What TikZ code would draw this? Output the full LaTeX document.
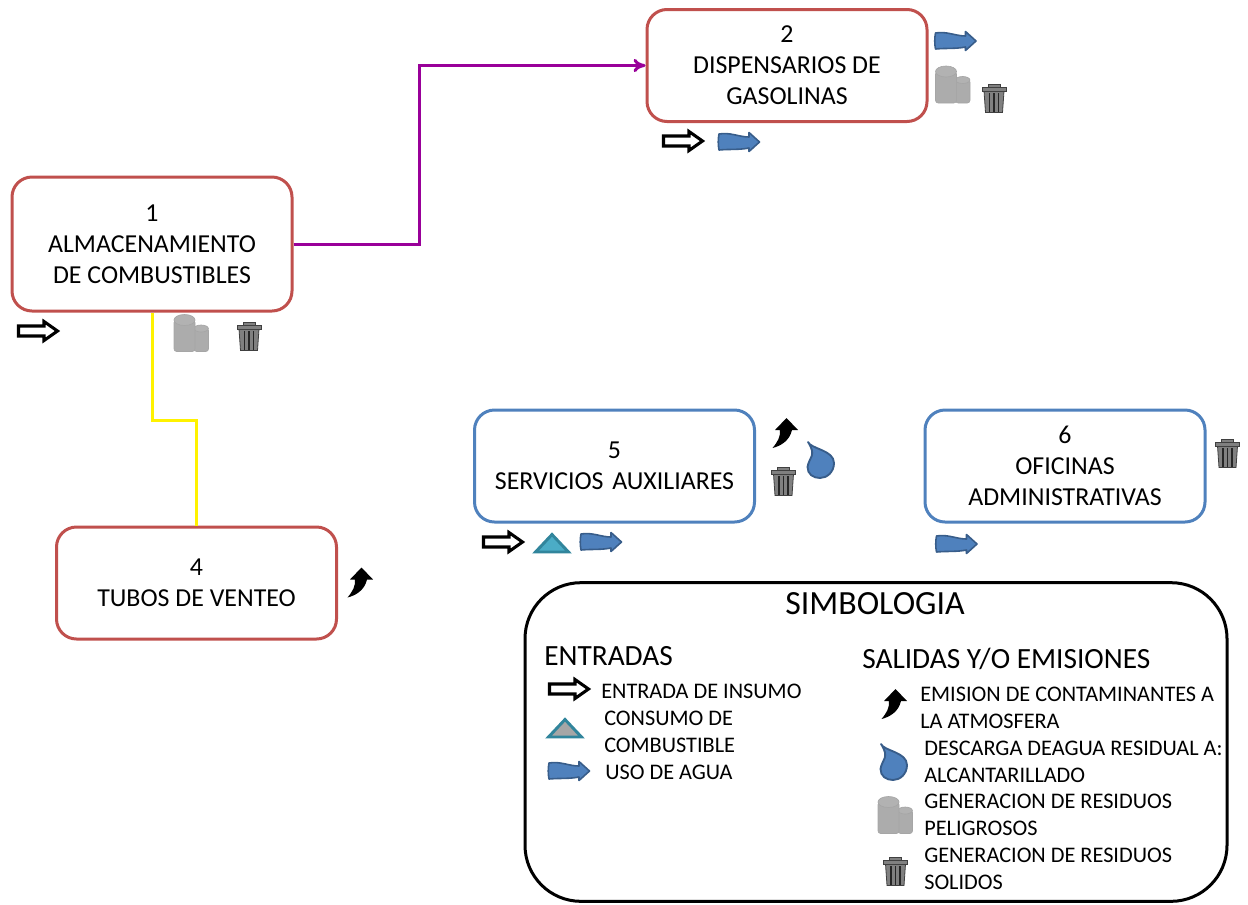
\documentclass[tikz,border=0pt]{standalone}
\usepackage{fontspec}
\setmainfont{Carlito}
\usetikzlibrary{arrows.meta}
\definecolor{boxred}{HTML}{C0504D}
\definecolor{boxblue}{HTML}{4F81BD}
\definecolor{waterline}{HTML}{385D8A}
\definecolor{teal}{HTML}{31859C}
\definecolor{tealfill}{HTML}{4BACC6}
\definecolor{linkpurple}{HTML}{990099}
\tikzset{
  inarrow/.pic={\draw[black,line width=2.3pt,fill=white,miter limit=4] (-19.5,-5) -- (6,-5) -- (6,-9.5) -- (19.5,0) -- (6,9.5) -- (6,5) -- (-19.5,5) -- cycle;},
  wateruse/.pic={\draw[waterline,line width=1.2pt,fill=boxblue,line join=round] (-20,-8) .. controls (-9,-10) and (0,-5) .. (10,-5) -- (10,-9.5) -- (20.5,0) -- (10,9.5) -- (10,6) .. controls (0,8) and (-10,7) .. (-20,8) .. controls (-21,3) and (-21,-3) .. (-20,-8) -- cycle;},
  fuelicon/.pic={\draw[teal,line width=2.2pt,fill=#1,line join=miter] (-16.5,9) -- (0,-8.5) -- (16.5,9) -- cycle;},
  barrels/.pic={
    \draw[gray!70,line width=.5pt,fill=gray!65,rounded corners=2pt] (3,-5) -- (3,18.5) -- (17.5,18.5) -- (17.5,-5) -- cycle;
    \draw[gray!70,line width=.5pt,fill=gray!60] (10.2,-4.5) ellipse (7.2 and 3.5);
    \draw[gray!70,line width=.5pt,fill=gray!65,rounded corners=2pt] (-17,-13) -- (-17,18.5) -- (4,18.5) -- (4,-13) -- cycle;
    \draw[gray!70,line width=.5pt,fill=gray!60] (-6.5,-13) ellipse (10.5 and 5.5);},
  trashbin/.pic={
    \draw[black!75,line width=.6pt,fill=black!50] (-10,-7) -- (-8.5,14.5) -- (8.5,14.5) -- (10,-7) -- cycle;
    \foreach \barx in {-4.5,0,4.5} \draw[black!85,line width=.8pt] (\barx,-5) -- (\barx,13.5);
    \draw[black!75,line width=.6pt,fill=black!50] (-12,-11) rectangle (12,-7);
    \draw[black!75,line width=.6pt,fill=black!50] (-6,-14) rectangle (6,-11);},
  airemission/.pic={\fill[black] (1,-15) -- (12.5,-3) -- (6.5,-3) .. controls (4,8) and (-5,13) .. (-13,15) .. controls (-8,9) and (-5,4) .. (-5.5,-3) -- (-10.5,-3) -- cycle;},
  waterdrop/.pic={\draw[waterline,line width=1.4pt,fill=boxblue,line join=round] (-13,-18) .. controls (-10,-11) and (13,-10) .. (13,3) .. controls (13,12) and (6,18) .. (-1,18) .. controls (-8,18) and (-13.5,14) .. (-13.5,7) .. controls (-12,-3) and (-4,-4) .. (-13,-18) -- cycle;}
}
\begin{document}
\begin{tikzpicture}[x=.75pt,y=-.75pt]
\tikzstyle{every node} = [font=\fontsize{19.4}{23.25}\selectfont, align=center]
\tikzstyle{stepbox} = [draw, fill=white, rounded corners=15pt, line width=2.25pt, minimum width=210pt, minimum height=84pt]
\tikzstyle{legtext} = [anchor=west, align=left, inner sep=0pt, font=\fontsize{16.7}{20.25}\selectfont]
\tikzstyle{leghead} = [anchor=west, inner sep=0pt, font=\fontsize{22}{26}\selectfont]
\useasboundingbox (0,0) rectangle (1248,904);
\node[stepbox, draw=boxred, minimum height=100.5pt] (almacen) at (152,244) {1\\ALMACENAMIENTO\\DE COMBUSTIBLES};
\node[stepbox, draw=boxred] (dispensa) at (787,65.5) {2\\DISPENSARIOS DE\\GASOLINAS};
\node[stepbox, draw=boxred] (venteo) at (196.5,583) {4\\TUBOS DE VENTEO};
\node[stepbox, draw=boxblue] (servicios) at (614.5,466) {5\\SERVICIOS\hspace{6.5pt}AUXILIARES};
\node[stepbox, draw=boxblue] (oficinas) at (1065,466) {6\\OFICINAS\\ADMINISTRATIVAS};
\draw[-{To[length=9pt,width=10pt]}, linkpurple, line width=2.25pt] (almacen.east) -- ++(126,0) |- (dispensa.west);
\draw[yellow, line width=2.25pt] (almacen.south) -- ++(0,108) -| (venteo.north);
% simbologia
\node[draw, line width=2.25pt, rounded corners=42pt, minimum width=526.5pt, minimum height=239pt] (simbox) at (876,742) {};
\node[font=\fontsize{25.4}{30}\selectfont] (simtitle) at (875,604) {SIMBOLOGIA};
\node[leghead] (entradas) at (544,656) {ENTRADAS};
\node[leghead] (salidas) at (862,659) {SALIDAS Y/O EMISIONES};
\node[legtext] (leginsumo) at (601,691) {ENTRADA DE INSUMO};
\node[legtext] (legconsumo) at (604,732) {CONSUMO DE\\COMBUSTIBLE};
\node[legtext] (legagua) at (605,772) {USO DE AGUA};
\node[legtext] (legemision) at (920,707.5) {EMISION DE CONTAMINANTES A\\LA ATMOSFERA};
\node[legtext] (legdescarga) at (924,761.5) {DESCARGA DEAGUA RESIDUAL A:\\ALCANTARILLADO};
\node[legtext] (legpeligro) at (924,814.5) {GENERACION DE RESIDUOS\\PELIGROSOS};
\node[legtext] (legsolido) at (924,868.5) {GENERACION DE RESIDUOS\\SOLIDOS};
% iconos
\foreach \px/\py in {38/331, 683/141, 503/542, 569/689}
\pic at (\px,\py) {inarrow};
\foreach \px/\py in {955.5/41, 739/142, 601/542, 956.5/544, 569/771}
\pic at (\px,\py) {wateruse};
\foreach \px/\py in {191/333, 952.5/84.5, 895/815}
\pic at (\px,\py) {barrels};
\foreach \px/\py in {249/336, 994/98, 783.5/481, 1227.5/453, 895.5/871}
\pic at (\px,\py) {trashbin};
\foreach \px/\py in {360.5/582.5, 785.5/433, 894.5/704}
\pic at (\px,\py) {airemission};
\foreach \px/\py in {821/460, 894/762}
\pic at (\px,\py) {waterdrop};
\pic at (552,543) {fuelicon=tealfill};
\pic at (565,728) {fuelicon=gray!70};
\end{tikzpicture}
\end{document}
